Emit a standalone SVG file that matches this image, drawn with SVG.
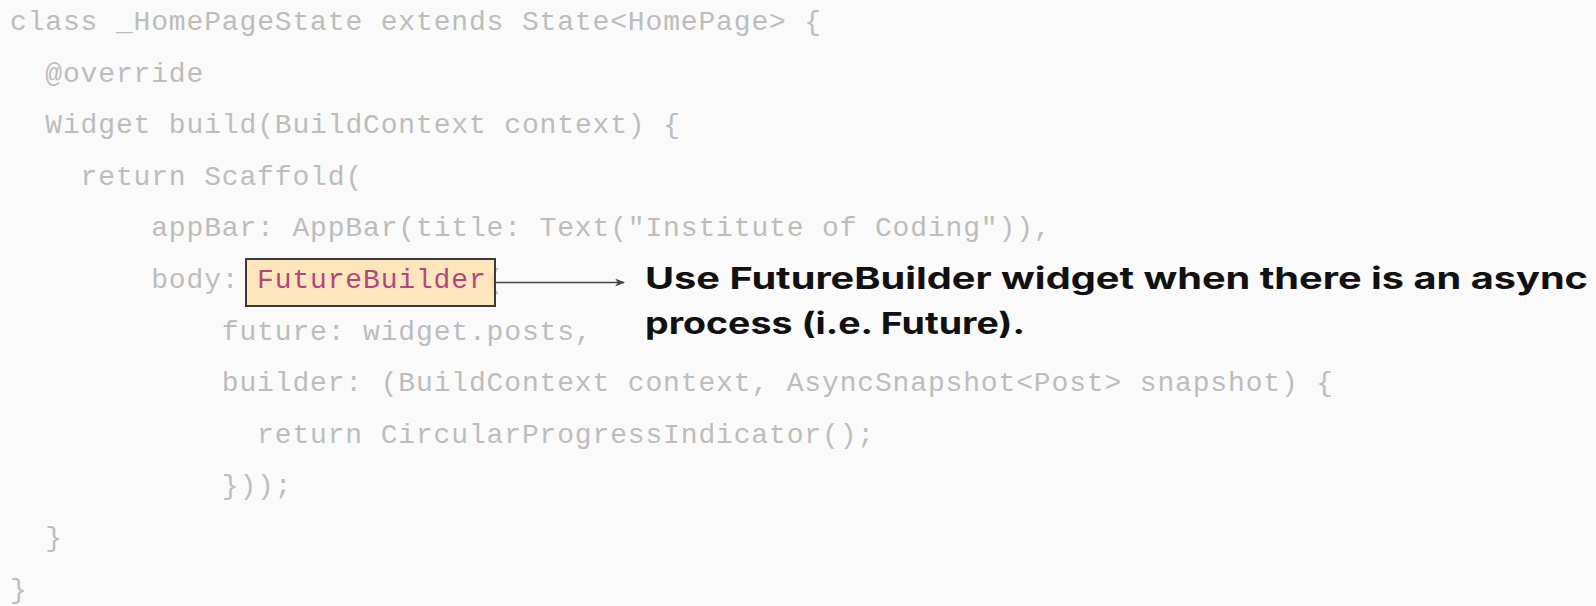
<svg xmlns="http://www.w3.org/2000/svg" width="1596" height="606" viewBox="0 0 1596 606">
  <style>
    .code { font-family: "Liberation Mono", "DejaVu Sans Mono", monospace; font-size: 28px; letter-spacing: 0.85px; fill: #bdbdbd; }
    .hl { fill: #b3467f; }
    .note { font-family: Inter, "Open Sans", "Liberation Sans", sans-serif; font-weight: 700; font-size: 30px; fill: #111111; }
    .box { fill: #fde2b0; fill-opacity: 0.85; stroke: #3a3a3a; stroke-width: 2; }
    .link { stroke: #444444; stroke-width: 1.6; fill: none; }
  </style>
  <defs>
    <marker id="arrow" viewBox="0 0 10 8" refX="9" refY="4" markerWidth="10" markerHeight="8" markerUnits="userSpaceOnUse" orient="auto">
      <path d="M0,0 L10,4 L0,8 L3,4 Z" fill="#444444"/>
    </marker>
  </defs>

  <rect width="1596" height="606" fill="#fafafa"/>

  <!-- source listing; indents at 17.65px per column -->
  <g id="code" class="code">
    <text x="10" y="30">class _HomePageState extends State&lt;HomePage&gt; {</text>
    <text x="45.3" y="81.6">@override</text>
    <text x="45.3" y="133.2">Widget build(BuildContext context) {</text>
    <text x="80.6" y="184.8">return Scaffold(</text>
    <text x="151.2" y="236.4">appBar: AppBar(title: Text("Institute of Coding")),</text>
    <text x="151.2" y="288">body:</text>
    <text x="486.55" y="288">(</text>
    <text x="221.8" y="339.6">future: widget.posts,</text>
    <text x="221.8" y="391.2">builder: (BuildContext context, AsyncSnapshot&lt;Post&gt; snapshot) {</text>
    <text x="257.1" y="442.8">return CircularProgressIndicator();</text>
    <text x="221.8" y="494.4">}));</text>
    <text x="45.3" y="546">}</text>
    <text x="10" y="597.6">}</text>
  </g>

  <!-- highlighted widget -->
  <g id="future-builder">
    <rect class="box" x="246" y="259" width="249" height="47"/>
    <text class="code hl" x="257.1" y="288">FutureBuilder</text>
  </g>

  <!-- explanation -->
  <g id="note">
    <text class="note" x="645" y="289" textLength="943" lengthAdjust="spacingAndGlyphs">Use FutureBuilder widget when there is an async</text>
    <text class="note" x="645" y="334" textLength="380" lengthAdjust="spacingAndGlyphs">process (i.e. Future).</text>
  </g>

  <g id="connectors">
    <line class="link" x1="496" y1="282.5" x2="624" y2="282.5" marker-end="url(#arrow)"/>
  </g>
</svg>
